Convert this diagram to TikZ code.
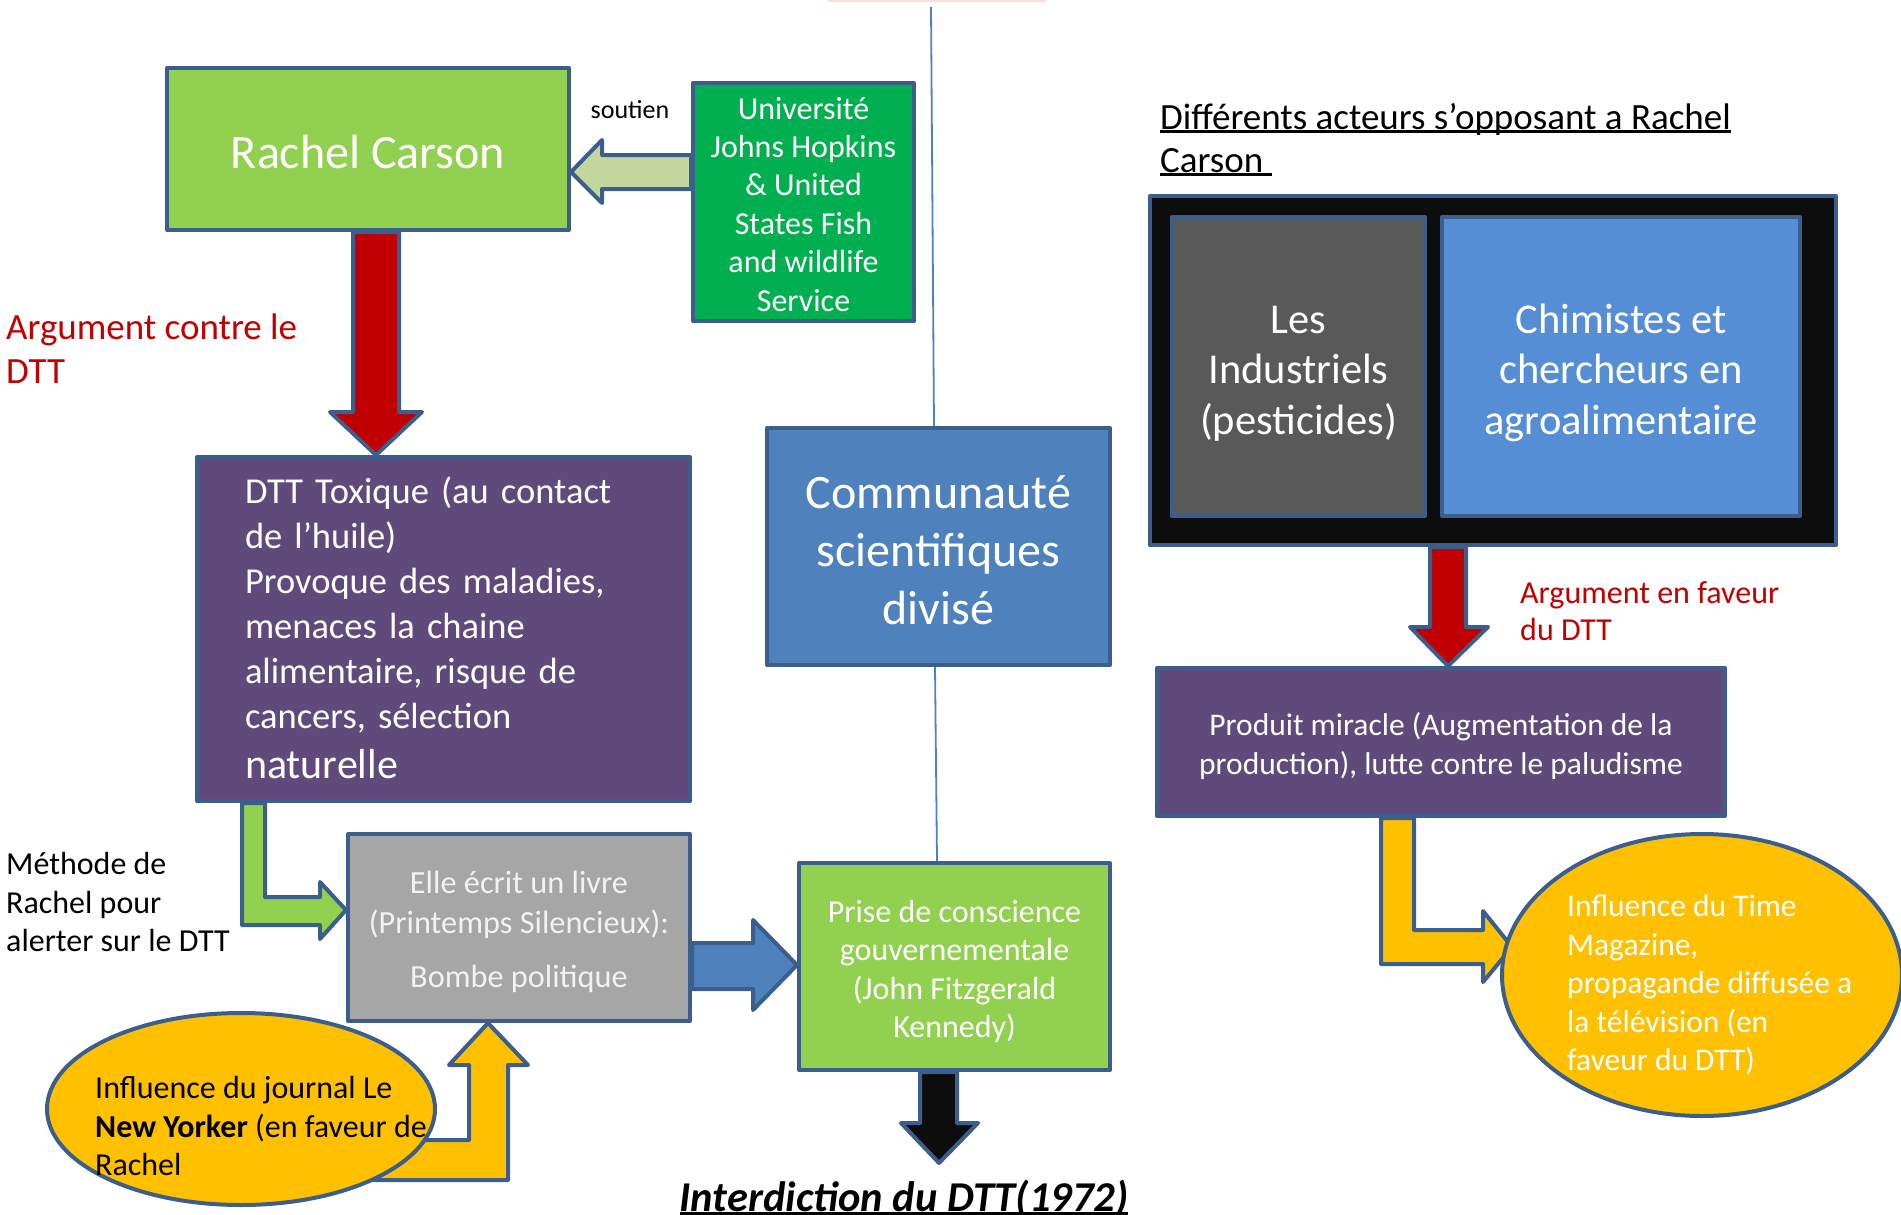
\documentclass[tikz,border=0pt]{standalone}
\usepackage{fontspec}
\setmainfont{Carlito}
\usetikzlibrary{shapes.geometric}
\pgfdeclarelayer{background}
\pgfsetlayers{background,main}

\definecolor{edge}{HTML}{3B5E8C}
\definecolor{leaf}{HTML}{92D050}
\definecolor{univgreen}{HTML}{00B050}
\definecolor{palegreen}{HTML}{C3D69B}
\definecolor{plum}{HTML}{604A7B}
\definecolor{steel}{HTML}{4F81BD}
\definecolor{ash}{HTML}{A6A6A6}
\definecolor{argred}{HTML}{C00000}
\definecolor{amber}{HTML}{FFC000}
\definecolor{ink}{HTML}{0D0D0D}
\definecolor{slate}{HTML}{595959}
\definecolor{sky}{HTML}{558ED5}
\definecolor{blush}{HTML}{FFDCDC}

\newcommand{\ulined}[1]{\setbox0\hbox{#1}\rlap{\rule[-0.09em]{\wd0}{0.07em}}\box0}

\begin{document}
\begin{tikzpicture}[x=1pt, y=-1pt,
    box/.style={rectangle, draw=edge, line width=4pt, line join=round, inner sep=0pt, align=center, text=white},
    firstbase/.style 2 args={text height=#1, text depth=#2},
    oval/.style={ellipse, draw=edge, line width=4pt, fill=amber, inner sep=0pt},
    lbl/.style={inner sep=0pt, align=left},
    barrow/.style={draw=edge, line width=4pt, line join=round},
    sepline/.style={draw=steel, line width=1.8pt}]
  \useasboundingbox (0,0) rectangle (1901,1215);

  % left column
  \node[box, fill=leaf, minimum width=402pt, minimum height=162pt, firstbase={38pt}{0pt}, font=\fontsize{48}{58}\selectfont] (rachel) at (368,149) {Rachel Carson};
  \node[box, fill=univgreen, minimum width=221pt, minimum height=238pt, firstbase={218pt}{0pt}, font=\fontsize{32}{38.4}\selectfont] (univ) at (803.5,202)
    {Université\\Johns Hopkins\\\& United\\States Fish\\and wildlife\\Service};
  \node[font=\fontsize{26}{31}\selectfont, inner sep=0pt] (soutien) at (630,110) {soutien};
  \node[lbl, anchor=west, text=argred, font=\fontsize{37}{44}\selectfont] (contre) at (6,349) {Argument contre le\\DTT};
  \node[box, fill=plum, minimum width=493pt, minimum height=344pt, text width=397pt, align=left, firstbase={0pt}{252pt}, font=\fontsize{36.5}{45}\selectfont] (dtt) at (443.5,629)
    {DTT Toxique (au contact\\de l’huile)\\Provoque des maladies,\\menaces la chaine\\alimentaire, risque de\\cancers, sélection\\[5pt]{\fontsize{42}{47}\selectfont naturelle}};
  \node[box, fill=steel, minimum width=343pt, minimum height=237pt, firstbase={155pt}{0pt}, font=\fontsize{48}{58}\selectfont] (comm) at (938.5,546.5)
    {Communauté\\scientifiques\\divisé};
  \node[box, fill=ash, text=white!95!black, minimum width=342pt, minimum height=187pt, firstbase={119pt}{0pt}, font=\fontsize{32.3}{40}\selectfont] (book) at (519,927.5)
    {Elle écrit un livre\\(Printemps Silencieux):\\[14pt]Bombe politique};
  \node[box, fill=leaf, minimum width=311pt, minimum height=207pt, firstbase={142pt}{0pt}, font=\fontsize{32}{38.5}\selectfont] (prise) at (954.5,966.5)
    {Prise de conscience\\gouvernementale\\(John Fitzgerald\\Kennedy)};
  \node[lbl, anchor=west, font=\fontsize{32}{38.5}\selectfont] (methode) at (6,902) {Méthode de\\Rachel pour\\alerter sur le DTT};
  \node[oval, minimum width=388pt, minimum height=192pt] (nyell) at (241,1109) {};
  \node[lbl, anchor=west, font=\fontsize{32}{38.5}\selectfont] (nytext) at (95,1126)
    {Influence du journal Le\\\textbf{New Yorker} (en faveur de\\Rachel};
  \node[anchor=base, inner sep=0pt, font=\fontsize{42.5}{50}\selectfont\bfseries\itshape] (ban) at (904,1211) {\ulined{Interdiction du DTT(1972)}};

  % right column
  \node[lbl, anchor=west, font=\fontsize{37}{43}\selectfont] (titre) at (1160,139.5)
    {\ulined{Différents acteurs s’opposant a Rachel}\\\ulined{Carson\ }};
  \node[box, fill=ink, minimum width=686pt, minimum height=349pt] (acteurs) at (1493,370.5) {};
  \node[box, fill=slate, minimum width=253pt, minimum height=299pt, firstbase={135pt}{0pt}, font=\fontsize{42.5}{50.5}\selectfont] (indus) at (1298.5,366.5)
    {Les\\Industriels\\(pesticides)};
  \node[box, fill=sky, minimum width=358pt, minimum height=299pt, firstbase={135pt}{0pt}, font=\fontsize{42.5}{50.5}\selectfont] (chim) at (1621,366.5)
    {Chimistes et\\chercheurs en\\agroalimentaire};
  \node[lbl, anchor=west, text=argred, font=\fontsize{32}{37}\selectfont] (faveur) at (1520,611.5) {Argument en faveur\\du DTT};
  \node[box, fill=plum, minimum width=568pt, minimum height=148pt, firstbase={64pt}{0pt}, font=\fontsize{31.5}{39}\selectfont] (produit) at (1441,742)
    {Produit miracle (Augmentation de la\\production), lutte contre le paludisme};
  \node[oval, minimum width=400pt, minimum height=282pt] (timeell) at (1702,975) {};
  \node[lbl, anchor=west, text=white, font=\fontsize{31.5}{38.5}\selectfont] (timetext) at (1567,985)
    {Influence du Time\\Magazine,\\propagande diffusée a\\la télévision (en\\faveur du DTT)};

  \begin{pgfonlayer}{background}
    \draw[blush, line width=2pt] (828,1) -- (1046,1);
    \draw[sepline] (931,7) -- (934,0 |- comm.north);
    \draw[sepline] (935,0 |- comm.south) -- (937,0 |- prise.north);
    % block arrows
    \draw[barrow, fill=palegreen] (univ.west |- 0,155) -- (602,155) -- (602,140) -- (rachel.east |- 0,172)
      -- (602,203) -- (602,189) -- (univ.west |- 0,189) -- cycle;
    \draw[barrow, fill=argred] (353,0 |- rachel.south) -- (353,412) -- (330,412) -- (376,0 |- dtt.north)
      -- (422,412) -- (399,412) -- (399,0 |- rachel.south) -- cycle;
    \draw[barrow, fill=leaf] (242,0 |- dtt.south) -- (242,925) -- (320,925) -- (320,939) -- (book.west |- 0,910)
      -- (320,882) -- (320,897) -- (265,897) -- (265,0 |- dtt.south) -- cycle;
    \draw[barrow, fill=steel] (book.east |- 0,943) -- (753,943) -- (753,920) -- (prise.west |- 0,965)
      -- (753,1010) -- (753,989) -- (book.east |- 0,989) -- cycle;
    \draw[barrow, fill=ink] (920,0 |- prise.south) -- (920,1123) -- (901,1123) -- (939,1163)
      -- (978,1123) -- (957,1123) -- (957,0 |- prise.south) -- cycle;
    \draw[barrow, fill=amber] (nyell.center |- 0,1140) -- (469,1140) -- (469,1065) -- (449,1065) -- (488,0 |- book.south)
      -- (528,1065) -- (508,1065) -- (508,1180) -- (nyell.center |- 0,1180) -- cycle;
    \draw[barrow, fill=argred] (1430,0 |- acteurs.south) -- (1430,627) -- (1410,627) -- (1448,0 |- produit.north)
      -- (1488,627) -- (1466,627) -- (1466,0 |- acteurs.south) -- cycle;
    \draw[barrow, fill=amber] (1381,0 |- produit.south) -- (1381,964) -- (1483,964) -- (1483,982) -- (1512,947)
      -- (1483,911) -- (1483,930) -- (1414,930) -- (1414,0 |- produit.south) -- cycle;
  \end{pgfonlayer}
\end{tikzpicture}
\end{document}
